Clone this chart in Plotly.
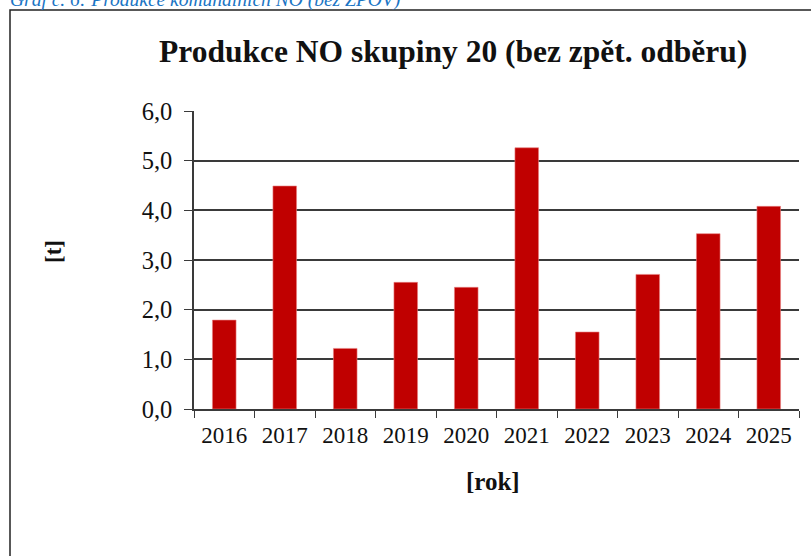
import plotly.graph_objects as go

years = ["2016", "2017", "2018", "2019", "2020", "2021", "2022", "2023", "2024", "2025"]
values = [1.79, 4.49, 1.22, 2.55, 2.45, 5.26, 1.55, 2.71, 3.53, 4.08]
y_ticks = [0, 1, 2, 3, 4, 5, 6]
y_tick_labels = ["0,0", "1,0", "2,0", "3,0", "4,0", "5,0", "6,0"]

W, H = 811, 556
L, R, T, B = 194, 12, 111, 147
pw = W - L - R
ph = H - T - B

def px(x):
    return (x - L) / pw

def py(y):
    return (H - B - y) / ph

serif = "Liberation Serif, Times New Roman, serif"
axis_col = "#3a3a3a"

fig = go.Figure(go.Bar(
    x=years, y=values,
    marker=dict(color="#C00000", line=dict(color="#E88080", width=0.6)),
    width=0.39,
    hoverinfo="skip",
))

fig.update_layout(
    width=W, height=H,
    margin=dict(l=L, r=R, t=T, b=B, pad=0),
    paper_bgcolor="white", plot_bgcolor="white",
    showlegend=False,
    font=dict(family=serif, color="#111111"),
    xaxis=dict(
        type="category",
        tickson="boundaries",
        ticks="outside", ticklen=7, tickwidth=1.3, tickcolor=axis_col,
        showline=True, linecolor=axis_col, linewidth=1.5,
        showgrid=False,
        tickfont=dict(family=serif, size=23, color="#111111"),
        ticklabelstandoff=5,
    ),
    yaxis=dict(
        range=[0, 6],
        tickvals=y_ticks, ticktext=y_tick_labels,
        ticks="outside", ticklen=8, tickwidth=1.3, tickcolor=axis_col,
        showline=True, linecolor=axis_col, linewidth=1.5,
        showgrid=True, gridcolor=axis_col, gridwidth=1.5,
        zeroline=False,
        tickfont=dict(family=serif, size=24.5, color="#111111"),
        ticklabelstandoff=7,
    ),
    shapes=[dict(
        type="rect", xref="paper", yref="paper",
        x0=px(10), x1=px(830), y0=py(10), y1=py(580),
        line=dict(color="#222222", width=1.5), fillcolor="rgba(0,0,0,0)",
    )],
    annotations=[
        dict(text="Graf č. 6: Produkce komunálních NO (bez ZPOV)",
             xref="paper", yref="paper", x=px(8), y=py(13),
             xanchor="left", yanchor="bottom", showarrow=False,
             font=dict(family=serif, size=19.5, color="#1B75C4", style="italic")),
        dict(text="<b>Produkce NO skupiny 20 (bez zpět. odběru)</b>",
             xref="paper", yref="paper", x=px(453), y=py(52),
             xanchor="center", yanchor="middle", showarrow=False,
             font=dict(family=serif, size=31.5, color="#111111")),
        dict(text="<b>[rok]</b>",
             xref="paper", yref="paper", x=px(493), y=py(481),
             xanchor="center", yanchor="middle", showarrow=False,
             font=dict(family=serif, size=25, color="#111111")),
        dict(text="<b>[t]</b>",
             xref="paper", yref="paper", x=px(53), y=py(252),
             xanchor="center", yanchor="middle", showarrow=False, textangle=-90,
             font=dict(family=serif, size=23, color="#111111")),
    ],
)

fig.write_html("out.html", config={"displayModeBar": False},
               post_script="document.body.style.margin='0px';")
